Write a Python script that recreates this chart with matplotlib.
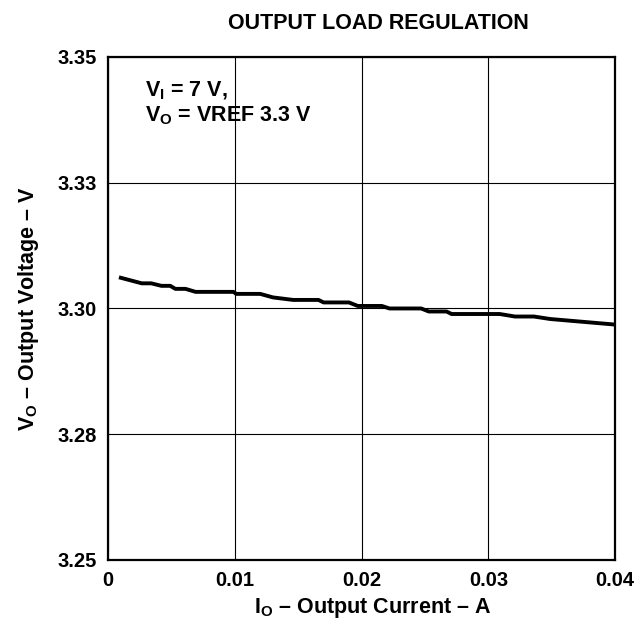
import numpy as np
import matplotlib
matplotlib.use('Agg')
import matplotlib.pyplot as plt

plt.rcParams['font.family'] = ['Liberation Sans', 'DejaVu Sans']
plt.rcParams['font.weight'] = 'bold'
plt.rcParams['mathtext.fontset'] = 'custom'
plt.rcParams['mathtext.rm'] = 'Liberation Sans:bold'
plt.rcParams['mathtext.bf'] = 'Liberation Sans:bold'
plt.rcParams['mathtext.it'] = 'Liberation Sans:bold'

# output current (A) and output voltage (V)
current = [0.0010, 0.00265, 0.0034, 0.0042, 0.0049, 0.0053, 0.0061, 0.0069,
           0.0099, 0.0101, 0.0120, 0.0130, 0.0146, 0.0166, 0.0170, 0.0190,
           0.0197, 0.0216, 0.0222, 0.0247, 0.0253, 0.0267, 0.0271, 0.0309,
           0.0321, 0.0336, 0.0349, 0.0400]
voltage = [3.3061, 3.3050, 3.3050, 3.3045, 3.3045, 3.3039, 3.3039, 3.3033,
           3.3033, 3.3029, 3.3029, 3.3022, 3.3017, 3.3017, 3.3012, 3.3012,
           3.3005, 3.3005, 3.3000, 3.3000, 3.2994, 3.2994, 3.2989, 3.2989,
           3.2984, 3.2984, 3.2979, 3.2968]

x_ticks = [0, 0.01, 0.02, 0.03, 0.04]
x_labels = ['0', '0.01', '0.02', '0.03', '0.04']
y_ticks = [3.25, 3.275, 3.30, 3.325, 3.35]
y_labels = ['3.25', '3.28', '3.30', '3.33', '3.35']

FS = 15.5

fig = plt.figure(figsize=(6.4, 6.24), dpi=100)
ax = fig.add_axes([0.169, 0.1026, 0.792, 0.8061])

ax.plot(current, voltage, color='black', lw=2.8, solid_joinstyle='round')

ax.set_xlim(0, 0.04)
ax.set_ylim(3.25, 3.35)
ax.set_xticks(x_ticks)
ax.set_xticklabels(x_labels)
ax.set_yticks(y_ticks)
ax.set_yticklabels(y_labels)
ax.tick_params(length=0, labelsize=14.5, pad=8)
ax.grid(True, color='black', lw=0.8)
for s in ax.spines.values():
    s.set_linewidth(1.6)

ax.set_xlabel(r'$\mathrm{I_O}$ – Output Current – A', fontsize=FS,
              fontweight='bold', labelpad=4, x=0.522)
ax.set_ylabel(r'$\mathrm{V_O}$ – Output Voltage – V', fontsize=FS,
              fontweight='bold', labelpad=12)
ax.set_title('OUTPUT LOAD REGULATION', fontsize=FS, fontweight='bold',
             pad=20, x=0.533)

ax.text(0.072, 0.955, r'$\mathrm{V_I}$ = 7 V,' + '\n' + r'$\mathrm{V_O}$ = VREF 3.3 V',
        transform=ax.transAxes, ha='left', va='top', fontsize=FS,
        fontweight='bold', linespacing=1.15)

fig.savefig('out.png', dpi=100)
